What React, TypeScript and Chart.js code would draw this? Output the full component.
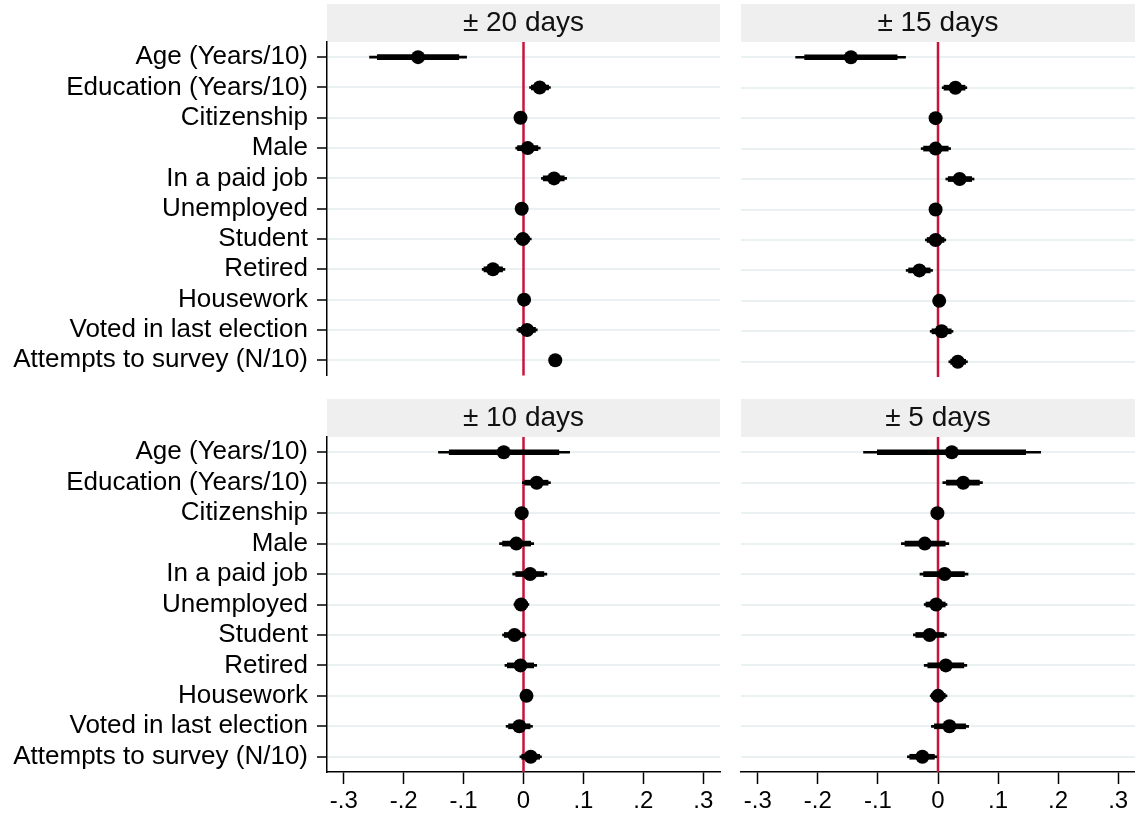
import { useEffect, useRef } from 'react';
import { Chart, registerables } from 'chart.js';

Chart.register(...registerables);

const FONT = "'Liberation Sans', Arial, Helvetica, sans-serif";

const categories = [
  'Age (Years/10)',
  'Education (Years/10)',
  'Citizenship',
  'Male',
  'In a paid job',
  'Unemployed',
  'Student',
  'Retired',
  'Housework',
  'Voted in last election',
  'Attempts to survey (N/10)',
];

const tickValues = [-0.3, -0.2, -0.1, 0, 0.1, 0.2, 0.3];
const tickLabels = ['-.3', '-.2', '-.1', '0', '.1', '.2', '.3'];

// ± 20 days
const coef20 = [-0.176, 0.027, -0.005, 0.007, 0.051, -0.003, -0.001, -0.051, 0.001, 0.006, 0.053];
const lo95_20 = [-0.257, 0.010, -0.008, -0.013, 0.030, -0.006, -0.015, -0.069, -0.002, -0.011, 0.050];
const hi95_20 = [-0.095, 0.045, -0.002, 0.028, 0.072, 0.000, 0.013, -0.031, 0.004, 0.023, 0.056];
const lo90_20 = [-0.244, 0.013, -0.007, -0.010, 0.033, -0.005, -0.012, -0.066, -0.001, -0.008, 0.051];
const hi90_20 = [-0.108, 0.042, -0.003, 0.024, 0.068, -0.001, 0.010, -0.035, 0.003, 0.020, 0.055];

// ± 15 days
const coef15 = [-0.145, 0.029, -0.004, -0.004, 0.036, -0.004, -0.004, -0.031, 0.002, 0.006, 0.033];
const lo95_15 = [-0.237, 0.007, -0.007, -0.028, 0.013, -0.007, -0.021, -0.053, -0.001, -0.013, 0.018];
const hi95_15 = [-0.054, 0.048, -0.001, 0.021, 0.060, -0.001, 0.013, -0.009, 0.005, 0.025, 0.049];
const lo90_15 = [-0.222, 0.010, -0.006, -0.024, 0.017, -0.006, -0.018, -0.049, 0.000, -0.010, 0.021];
const hi90_15 = [-0.068, 0.045, -0.002, 0.017, 0.056, -0.002, 0.010, -0.013, 0.004, 0.022, 0.046];

// ± 10 days
const coef10 = [-0.033, 0.022, -0.003, -0.012, 0.011, -0.004, -0.015, -0.005, 0.005, -0.007, 0.012];
const lo95_10 = [-0.142, -0.002, -0.006, -0.040, -0.018, -0.016, -0.035, -0.031, 0.002, -0.029, -0.006];
const hi95_10 = [0.077, 0.045, 0.000, 0.017, 0.039, 0.009, 0.004, 0.022, 0.008, 0.015, 0.030];
const lo90_10 = [-0.124, 0.002, -0.005, -0.035, -0.013, -0.014, -0.032, -0.027, 0.003, -0.025, -0.003];
const hi90_10 = [0.059, 0.041, -0.001, 0.012, 0.034, 0.007, 0.001, 0.017, 0.007, 0.011, 0.027];

// ± 5 days
const coef5 = [0.023, 0.042, -0.001, -0.022, 0.011, -0.003, -0.014, 0.013, 0.000, 0.019, -0.026];
const lo95_5 = [-0.124, 0.008, -0.004, -0.061, -0.030, -0.023, -0.041, -0.023, -0.013, -0.011, -0.051];
const hi95_5 = [0.171, 0.074, 0.002, 0.018, 0.050, 0.015, 0.014, 0.048, 0.015, 0.051, -0.002];
const lo90_5 = [-0.101, 0.014, -0.003, -0.055, -0.024, -0.020, -0.037, -0.017, -0.011, -0.006, -0.047];
const hi90_5 = [0.146, 0.069, 0.001, 0.012, 0.044, 0.012, 0.010, 0.043, 0.012, 0.046, -0.006];

type PanelProps = {
  title: string;
  coef: number[];
  lo95: number[];
  hi95: number[];
  lo90: number[];
  hi90: number[];
  showY: boolean;
  showX: boolean;
  left: number;
  top: number;
  width: number;
  height: number;
  padLeft: number;
  padRight: number;
};

function Panel(props: PanelProps) {
  const chartRef = useRef<HTMLCanvasElement>(null);
  const chartInstance = useRef<Chart | null>(null);

  useEffect(() => {
    if (!chartRef.current) return;
    if (chartInstance.current) chartInstance.current.destroy();

    const { title, coef, lo95, hi95, lo90, hi90, showY, showX } = props;

    // grey strip with the panel title, and the red line at zero
    const panelDecor = {
      id: 'panelDecor',
      beforeDraw(chart: any) {
        const { ctx, chartArea } = chart;
        ctx.save();
        ctx.fillStyle = '#efefef';
        ctx.fillRect(chartArea.left, chartArea.top - 38, chartArea.right - chartArea.left, 38);
        ctx.fillStyle = '#111';
        ctx.font = `28px ${FONT}`;
        ctx.textAlign = 'center';
        ctx.textBaseline = 'middle';
        ctx.fillText(title, (chartArea.left + chartArea.right) / 2, chartArea.top - 19);
        ctx.restore();
      },
      beforeDatasetsDraw(chart: any) {
        const { ctx, chartArea, scales } = chart;
        const x0 = scales.x.getPixelForValue(0);
        ctx.save();
        ctx.strokeStyle = '#c8143c';
        ctx.lineWidth = 2.5;
        ctx.beginPath();
        ctx.moveTo(x0, chartArea.top);
        ctx.lineTo(x0, chartArea.bottom);
        ctx.stroke();
        ctx.restore();
      },
    };

    chartInstance.current = new Chart(chartRef.current, {
      type: 'bar',
      data: {
        labels: categories,
        datasets: [
          {
            type: 'line',
            label: 'coef',
            indexAxis: 'y',
            data: coef,
            showLine: false,
            pointRadius: 7,
            pointHoverRadius: 7,
            pointBackgroundColor: '#000',
            pointBorderWidth: 0,
            order: 0,
          } as any,
          {
            label: '90',
            indexAxis: 'y',
            data: lo90.map((v, i) => [v, hi90[i]]),
            backgroundColor: '#000',
            barThickness: 5,
            grouped: false,
            borderSkipped: false,
            order: 1,
          },
          {
            label: '95',
            indexAxis: 'y',
            data: lo95.map((v, i) => [v, hi95[i]]),
            backgroundColor: '#000',
            barThickness: 2,
            grouped: false,
            borderSkipped: false,
            order: 2,
          },
        ],
      },
      options: {
        indexAxis: 'y',
        animation: false,
        responsive: false,
        maintainAspectRatio: false,
        layout: {
          padding: { top: 42, bottom: 0, left: props.padLeft, right: props.padRight },
        },
        plugins: {
          legend: { display: false },
          tooltip: { enabled: false },
        },
        scales: {
          x: {
            type: 'linear',
            min: -0.328,
            max: 0.328,
            display: true,
            offset: false,
            afterBuildTicks: (scale: any) => {
              scale.ticks = tickValues.map((v) => ({ value: v }));
            },
            afterFit: (scale: any) => {
              scale.height = showX ? 43 : 23;
            },
            grid: {
              drawOnChartArea: false,
              drawTicks: showX,
              tickLength: 12,
              tickColor: '#000',
              tickWidth: 1.5,
            },
            border: { display: showX, color: '#000', width: 1.5 },
            ticks: {
              display: showX,
              autoSkip: false,
              maxRotation: 0,
              padding: 3,
              color: '#000',
              font: { family: FONT, size: 24 },
              callback: (_v: any, i: number) => tickLabels[i],
            },
          },
          y: {
            type: 'category',
            offset: true,
            afterFit: (scale: any) => {
              scale.width = showY ? 327 : 0;
            },
            grid: {
              offset: false,
              color: '#eaf1f3',
              lineWidth: 2,
              drawTicks: showY,
              tickLength: 10,
              tickColor: '#000',
              tickWidth: 1.5,
            },
            border: { display: showY, color: '#000', width: 1.5 },
            ticks: {
              display: showY,
              autoSkip: false,
              padding: 9,
              color: '#000',
              font: { family: FONT, size: 26 },
            },
          },
        },
      },
      plugins: [panelDecor],
    });

    return () => {
      if (chartInstance.current) {
        chartInstance.current.destroy();
        chartInstance.current = null;
      }
    };
  }, []);

  return (
    <canvas
      ref={chartRef}
      width={props.width}
      height={props.height}
      style={{
        position: 'absolute',
        left: props.left,
        top: props.top,
        width: props.width,
        height: props.height,
      }}
    />
  );
}

export default function App() {
  return (
    <div
      style={{
        position: 'absolute',
        left: 0,
        top: 0,
        width: 1135,
        height: 815,
        background: '#fff',
        overflow: 'hidden',
      }}
    >
      <Panel
        title="± 20 days"
        coef={coef20}
        lo95={lo95_20}
        hi95={hi95_20}
        lo90={lo90_20}
        hi90={hi90_20}
        showY={true}
        showX={false}
        left={0}
        top={0}
        width={735}
        height={400}
        padLeft={0}
        padRight={15}
      />
      <Panel
        title="± 15 days"
        coef={coef15}
        lo95={lo95_15}
        hi95={hi95_15}
        lo90={lo90_15}
        hi90={hi90_15}
        showY={false}
        showX={false}
        left={726}
        top={0}
        width={424}
        height={400}
        padLeft={15}
        padRight={15}
      />
      <Panel
        title="± 10 days"
        coef={coef10}
        lo95={lo95_10}
        hi95={hi95_10}
        lo90={lo90_10}
        hi90={hi90_10}
        showY={true}
        showX={true}
        left={0}
        top={395}
        width={735}
        height={420}
        padLeft={0}
        padRight={15}
      />
      <Panel
        title="± 5 days"
        coef={coef5}
        lo95={lo95_5}
        hi95={hi95_5}
        lo90={lo90_5}
        hi90={hi90_5}
        showY={false}
        showX={true}
        left={726}
        top={395}
        width={424}
        height={420}
        padLeft={15}
        padRight={15}
      />
    </div>
  );
}
